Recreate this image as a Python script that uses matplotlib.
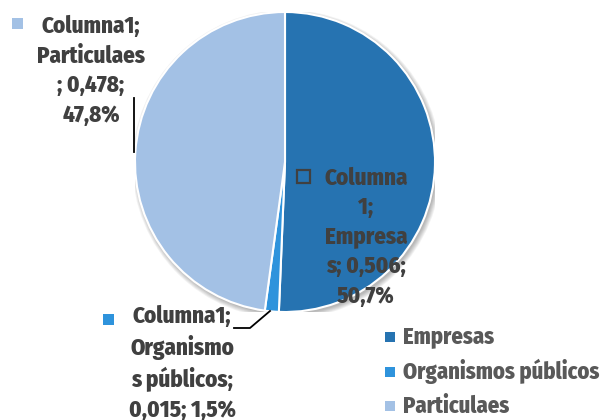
import matplotlib
matplotlib.use('Agg')
import matplotlib.pyplot as plt
from matplotlib.patches import Rectangle, Circle

# data
categories = ['Empresas', 'Organismos públicos', 'Particulaes']
values = [0.506, 0.015, 0.478]
percents = ['50,7%', '1,5%', '47,8%']
value_txt = ['0,506', '0,015', '0,478']
colors = ['#2673B1', '#2E93DC', '#A3C1E5']

plt.rcParams['font.family'] = ['Fira Sans Condensed', 'Roboto Condensed',
                               'Archivo Narrow', 'DejaVu Sans']
W, H = 604, 420
fig = plt.figure(figsize=(W / 100, H / 100), dpi=100)

# pie axes: centre (285,162) px, radius 150 px
cx, cy, r = 285, 162, 150
ax = fig.add_axes([(cx - r) / W, (H - cy - r) / H, 2 * r / W, 2 * r / H])

# soft shadow under the pie
for k in range(6):
    ax.add_patch(Circle((0.012, -0.016), 1.0 + 0.006 * k, facecolor='#000000',
                        alpha=0.05, edgecolor='none', zorder=0))

ax.pie(values, colors=colors, startangle=90, counterclock=False, radius=1,
       wedgeprops={'edgecolor': 'white', 'linewidth': 1.5, 'zorder': 2})
ax.set_xlim(-1, 1)
ax.set_ylim(-1, 1)
ax.set_aspect('equal')
ax.axis('off')

# overlay axes in pixel coords for labels
ov = fig.add_axes([0, 0, 1, 1], facecolor='none')
ov.set_xlim(0, W)
ov.set_ylim(H, 0)
ov.axis('off')

lab_kw = dict(fontsize=16.5, fontweight=800, color='#404040', ha='center',
              va='center', linespacing=1.36)

# Particulaes label
ov.text(91, 71, f'Columna1;\n{categories[2]}\n; {value_txt[2]};\n{percents[2]}', **lab_kw)
ov.add_patch(Rectangle((12, 18), 11, 11, facecolor=colors[2], edgecolor='none'))
ov.plot([134, 134], [98, 152], color='black', lw=1.3)

# Empresas label
ov.text(366, 237, f'Columna\n1;\nEmpresa\ns; {value_txt[0]};\n{percents[0]}', **lab_kw)
ov.add_patch(Rectangle((297, 170), 13, 13, facecolor='none', edgecolor='#404040', lw=1.6))

# Organismos label
ov.text(182, 363, f'Columna1;\nOrganismo\ns públicos;\n{value_txt[1]}; {percents[1]}', **lab_kw)
ov.add_patch(Rectangle((103, 314), 11, 11, facecolor=colors[1], edgecolor='none'))
ov.plot([234, 250, 270], [328, 328, 311], color='black', lw=1.3)

# legend
for i, (cat, col) in enumerate(zip(categories, colors)):
    y = 337 + i * 34.5
    ov.add_patch(Rectangle((385, y - 5), 10, 10, facecolor=col, edgecolor='none'))
    ov.text(403, y, cat, fontsize=16.2, fontweight=800, color='#595959',
            ha='left', va='center')

fig.savefig('out.png', dpi=100)
